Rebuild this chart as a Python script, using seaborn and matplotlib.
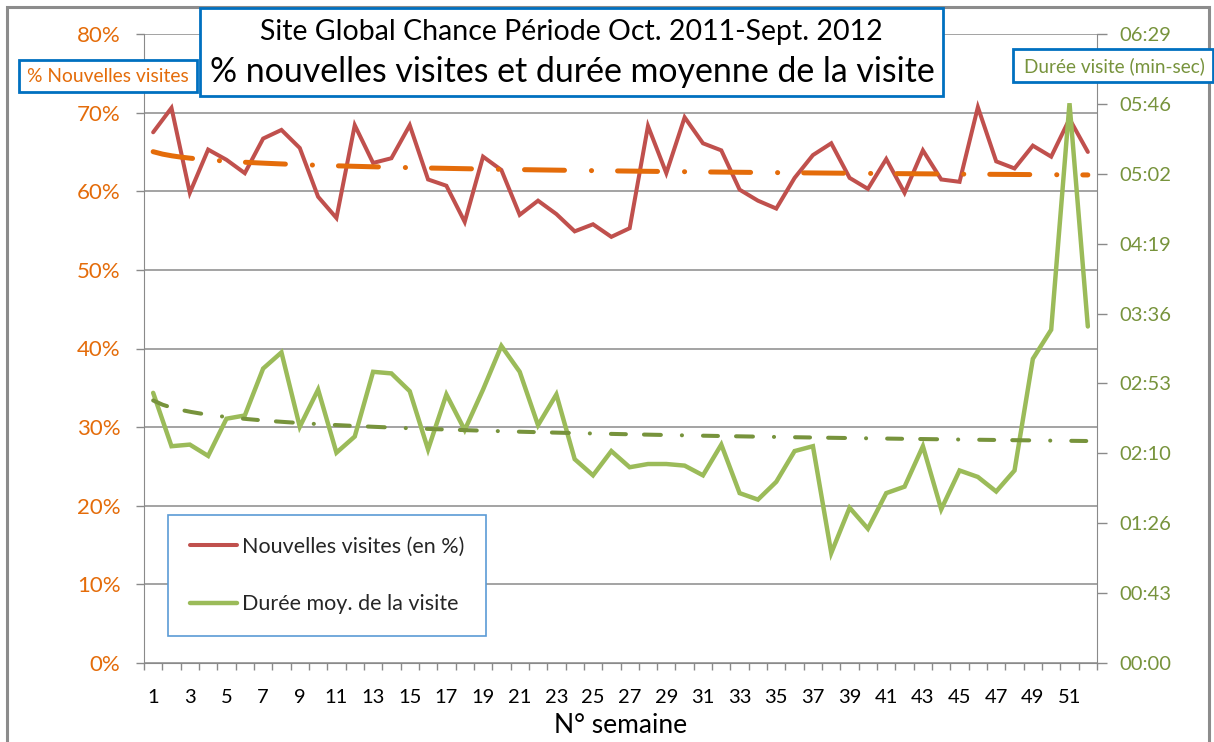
import numpy as np
import pandas as pd
import matplotlib
matplotlib.use("Agg")
import matplotlib.pyplot as plt
import seaborn as sns
from matplotlib.patches import Rectangle
from matplotlib.ticker import FuncFormatter, FixedLocator

# ---------------- data ----------------
weeks = list(range(1, 53))
nouvelles_pct = [67.5, 70.6, 59.8, 65.3, 64.0, 62.3, 66.7, 67.8, 65.5, 59.3,
                 56.6, 68.4, 63.6, 64.2, 68.4, 61.5, 60.7, 56.1, 64.4, 62.7,
                 57.0, 58.8, 57.1, 54.9, 55.8, 54.2, 55.3, 68.3, 62.3, 69.4,
                 66.1, 65.2, 60.2, 58.8, 57.8, 61.7, 64.6, 66.1, 61.7, 60.3,
                 64.1, 59.8, 65.2, 61.5, 61.2, 70.7, 63.8, 62.9, 65.8, 64.4,
                 69.2, 65.0]
duree_sec = [167, 134, 135, 128, 151, 153, 182, 192, 146, 169,
             130, 140, 180, 179, 168, 132, 166, 144, 169, 196,
             180, 147, 166, 126, 116, 131, 121, 123, 123, 122,
             116, 135, 105, 101, 112, 131, 134, 68, 96, 83,
             105, 109, 134, 95, 119, 115, 106, 119, 188, 206,
             346, 208]
week_ticks = list(range(1, 53, 2))
pct_ticks = [0, 10, 20, 30, 40, 50, 60, 70, 80]
duree_ticks_sec = [0, 43.2, 86.4, 129.6, 172.8, 216.0, 259.2, 302.4, 345.6, 388.8]

title_1 = "Site Global Chance Période Oct. 2011-Sept. 2012"
title_2 = "% nouvelles visites et durée moyenne de la visite"
label_left = "% Nouvelles visites"
label_right = "Durée visite (min-sec)"
label_x = "N° semaine"
legend_labels = ["Nouvelles visites (en %)", "Durée moy. de la visite"]

# ---------------- style ----------------
sns.set_style("white")
plt.rcParams['font.family'] = ['Lato', 'DejaVu Sans']
plt.rcParams['lines.scale_dashes'] = False

RED = '#C0504D'
GREEN = '#9BBB59'
ORANGE = '#E46C0A'
OLIVE = '#77933C'
GRID = '#8A8A8A'
BLUE = '#0070C0'

W, H = 1214, 742
fig = plt.figure(figsize=(W / 100, H / 100), dpi=100)
fig.patch.set_facecolor('white')


def fx(x):
    return x / W


def fy(y):
    return 1 - y / H


AX_L, AX_R, AX_T, AX_B = 144, 1097, 34, 663
ax = fig.add_axes([fx(AX_L), fy(AX_B), (AX_R - AX_L) / W, (AX_B - AX_T) / H])
ax2 = ax.twinx()

df = pd.DataFrame({'semaine': weeks, 'nouvelles': nouvelles_pct, 'duree': duree_sec})

# main lines + logarithmic trend lines
sns.lineplot(data=df, x='semaine', y='nouvelles', ax=ax, color=RED, lw=2.9,
             zorder=3, solid_joinstyle='miter')
sns.regplot(data=df, x='semaine', y='nouvelles', ax=ax, scatter=False, ci=None,
            logx=True,
            line_kws=dict(color=ORANGE, lw=3.6, dashes=[28.8, 19.4, 0.1, 18.7],
                          dash_capstyle='round', zorder=4))

sns.lineplot(data=df, x='semaine', y='duree', ax=ax2, color=GREEN, lw=3.2,
             zorder=3, solid_joinstyle='miter')
sns.regplot(data=df, x='semaine', y='duree', ax=ax2, scatter=False, ci=None,
            logx=True,
            line_kws=dict(color=OLIVE, lw=2.9, dashes=[10.8, 13, 12.2, 15.1, 0.1, 15.1],
                          dash_capstyle='round', zorder=4))

# ---------------- axes ----------------
ax.set_xlim(0.5, 52.5)
ax.set_ylim(0, 80)
ax2.set_ylim(0, 388.8)

ax.yaxis.set_major_locator(FixedLocator(pct_ticks))
ax.yaxis.set_major_formatter(FuncFormatter(lambda v, p: f"{v:.0f}%"))
ax2.yaxis.set_major_locator(FixedLocator(duree_ticks_sec))


def mmss(v, p=None):
    s = int(round(v))
    return f"{s // 60:02d}:{s % 60:02d}"


ax2.yaxis.set_major_formatter(FuncFormatter(mmss))

ax.set_xticks(week_ticks)
ax.set_xticklabels([str(w) for w in week_ticks])
ax.set_xticks(np.arange(0.5, 53, 1.0), minor=True)

ax.grid(axis='y', color=GRID, lw=1.1)
ax.grid(axis='x', visible=False)
ax.set_axisbelow(True)

for a in (ax, ax2):
    for s in a.spines.values():
        s.set_visible(False)
ax.spines['left'].set_visible(True)
ax.spines['left'].set_color(GRID)
ax.spines['bottom'].set_visible(True)
ax.spines['bottom'].set_color(GRID)
ax2.spines['right'].set_visible(True)
ax2.spines['right'].set_color(GRID)

ax.tick_params(axis='y', which='major', left=True, right=False, length=6, width=1,
               color=GRID, direction='out', pad=11, labelsize=16, labelcolor=ORANGE)
ax.tick_params(axis='x', which='major', bottom=True, length=0, pad=19,
               labelsize=14.5, labelcolor='black')
ax.tick_params(axis='x', which='minor', bottom=True, length=5, width=1, color=GRID,
               direction='out')
ax2.tick_params(axis='y', which='major', right=True, left=False, labelright=True,
                labelleft=False, length=7, width=1, color=GRID,
                direction='out', pad=9, labelsize=14.5, labelcolor=OLIVE)
ax2.xaxis.set_visible(False)

ax.set_xlabel(label_x, fontsize=19, color='black', labelpad=5)
ax.set_ylabel('')
ax2.set_ylabel('')

# legend
leg = ax2.legend(handles=[ax.lines[0], ax2.lines[0]], labels=legend_labels,
                 loc='upper left', bbox_to_anchor=(fx(168), fy(515)),
                 bbox_transform=fig.transFigure, fontsize=15.5, frameon=True,
                 fancybox=False, framealpha=1, facecolor='white',
                 edgecolor='#5B9BD5', borderpad=1.0, labelspacing=1.75,
                 handlelength=2.2, handletextpad=0.23, borderaxespad=0)
leg.get_frame().set_linewidth(1.2)
leg.set_zorder(10)

# ---------------- figure decorations ----------------
outer = Rectangle((fx(7), fy(760)), (1209 - 7) / W, (760 - 7) / H,
                  transform=fig.transFigure, fill=False, edgecolor='#8C8C8C',
                  lw=2.2, zorder=20)
fig.add_artist(outer)

title_box = Rectangle((fx(200), fy(96)), (943 - 200) / W, (96 - 8) / H,
                      transform=fig.transFigure, facecolor='white', edgecolor=BLUE,
                      lw=2, zorder=20)
fig.add_artist(title_box)
fig.text(fx(571), fy(32), title_1, ha='center', va='center', fontsize=20.5,
         color='black', zorder=21)
fig.text(fx(572), fy(72), title_2, ha='center', va='center', fontsize=24.4,
         color='black', zorder=21)

lbox = Rectangle((fx(19), fy(92)), (197 - 19) / W, (92 - 60) / H,
                 transform=fig.transFigure, facecolor='white', edgecolor=BLUE,
                 lw=2, zorder=20)
fig.add_artist(lbox)
fig.text(fx(108), fy(77), label_left, ha='center', va='center', fontsize=13.9,
         color=ORANGE, zorder=21)

rbox = Rectangle((fx(1013), fy(82)), (1213 - 1013) / W, (82 - 49) / H,
                 transform=fig.transFigure, facecolor='white', edgecolor=BLUE,
                 lw=2, zorder=20)
fig.add_artist(rbox)
fig.text(fx(1114), fy(66), label_right, ha='center', va='center', fontsize=13.7,
         color=OLIVE, zorder=21)

fig.savefig('out.png', dpi=100, facecolor='white')
